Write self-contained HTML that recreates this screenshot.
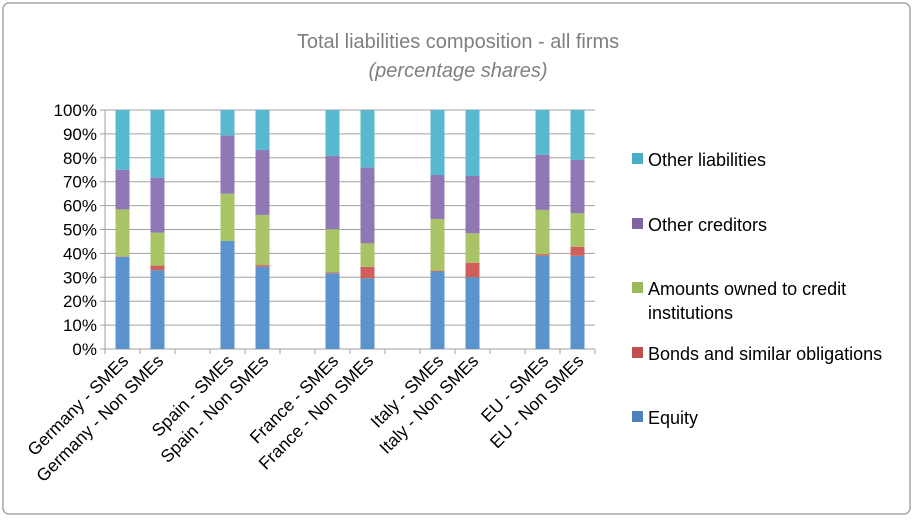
<!DOCTYPE html>
<html><head><meta charset="utf-8"><style>
body{margin:0;background:#fff;}
svg{display:block;font-family:"Liberation Sans",sans-serif;}
</style></head><body>
<svg width="917" height="521" xmlns="http://www.w3.org/2000/svg">
<rect x="3" y="3" width="907" height="511" rx="6" fill="#fff" stroke="#a6a6a6" stroke-width="1.5"/>
<text x="458" y="48" text-anchor="middle" font-size="20" fill="#7f7f7f">Total liabilities composition - all firms</text>
<text x="458" y="77" text-anchor="middle" font-size="20" font-style="italic" fill="#7f7f7f">(percentage shares)</text>
<g id="grid" stroke="#a0a0a0" stroke-width="1"></g>
<g id="bars"></g>
<g id="ylab" font-size="17" fill="#000" text-anchor="end"></g>
<g id="xlab" font-size="17.5" fill="#000" text-anchor="end"></g>
<g font-size="18" fill="#000">
<rect x="632" y="153" width="11" height="11" fill="#4bacc6"/><text x="648" y="166">Other liabilities</text>
<rect x="632" y="218" width="11" height="11" fill="#8064a2"/><text x="648" y="231">Other creditors</text>
<rect x="632" y="282" width="11" height="11" fill="#9bbb59"/><text x="648" y="295">Amounts owned to credit</text><text x="648" y="319">institutions</text>
<rect x="632" y="347" width="11" height="11" fill="#c0504d"/><text x="648" y="360">Bonds and similar obligations</text>
<rect x="632" y="411" width="11" height="11" fill="#4f81bd"/><text x="648" y="424">Equity</text>
</g>
</svg>
<script>
var ns="http://www.w3.org/2000/svg";
function el(p,t,a,txt){var e=document.createElementNS(ns,t);for(var k in a)e.setAttribute(k,a[k]);if(txt)e.textContent=txt;document.getElementById(p).appendChild(e);return e;}
var y0=349,h=239,x0=105,cw=35;
for(var i=0;i<=10;i++){var y=y0-h*i/10;el("grid","line",{x1:x0-5,x2:595,y1:y,y2:y});el("ylab","text",{x:97,y:y+6},(i*10)+"%");}
el("grid","line",{x1:x0,x2:x0,y1:110,y2:y0});
for(var i=0;i<=14;i++)el("grid","line",{x1:x0+i*cw,x2:x0+i*cw,y1:y0,y2:y0+5});
var cols=["#5b93cc","#cf5f5b","#a8c466","#8f78b4","#57b8cf"];
var data=[[0,"Germany - SMEs",[38.6,38.8,58.4,75.0]],[1,"Germany - Non SMEs",[33,34.9,48.7,71.7]],
[3,"Spain - SMEs",[45.2,45.2,65.0,89.3]],[4,"Spain - Non SMEs",[34.4,35.1,56.1,83.3]],
[6,"France - SMEs",[31.7,32.1,50.1,80.8]],[7,"France - Non SMEs",[29.6,34.4,44.2,75.9]],
[9,"Italy - SMEs",[32.4,32.8,54.4,72.8]],[10,"Italy - Non SMEs",[30,36.1,48.4,72.4]],
[12,"EU - SMEs",[39,39.7,58.2,81.3]],[13,"EU - Non SMEs",[39,42.8,56.8,79.1]]];
data.forEach(function(d){var cx=x0+(d[0]+0.5)*cw;var v=[0].concat(d[2]).concat([100]);
for(var s=0;s<5;s++){var ya=y0-h*v[s+1]/100,yb=y0-h*v[s]/100;if(yb-ya>0)el("bars","rect",{x:cx-7,y:ya,width:14,height:yb-ya,fill:cols[s]});}
el("xlab","text",{x:cx+7,y:362,transform:"rotate(-45 "+(cx+7)+" 362)"},d[1]);});
</script>
</body></html>
